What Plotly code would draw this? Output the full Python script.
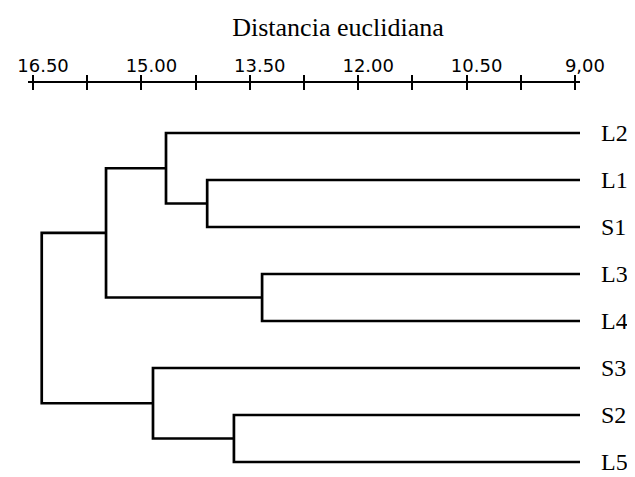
import plotly.graph_objects as go

# ---- data ----
leaves = ["L2", "L1", "S1", "L3", "L4", "S3", "S2", "L5"]
leaf_end = 8.93  # leaf lines run to the right edge (distance ~9)
# merges: (child_a, child_b, height); children: leaf index or "n<k>" for earlier merge k
merge_a = [1, 0, 3, "n1", 6, 5, "n3"]
merge_b = [2, "n0", 4, "n2", 7, "n4", "n5"]
merge_h = [14.09, 14.66, 13.33, 15.49, 13.72, 14.84, 16.38]

major_vals = [16.5, 15.0, 13.5, 12.0, 10.5, 9.0]
major_text = ["16.50", "15.00", "13.50", "12.00", "10.50", "9,00"]
minor_vals = [15.75, 14.25, 12.75, 11.25, 9.75]

title_text = "Distancia euclidiana"

# ---- build dendrogram segments ----
pos = {}
for i, _ in enumerate(leaves):
    pos[i] = (leaf_end, float(i))

xs, ys = [], []
for k, (a, b, h) in enumerate(zip(merge_a, merge_b, merge_h)):
    xa, ya = pos[a]
    xb, yb = pos[b]
    xs += [xa, h, h, xb, None]
    ys += [ya, ya, yb, yb, None]
    pos["n%d" % k] = (h, (ya + yb) / 2)

fig = go.Figure()
fig.add_trace(go.Scatter(x=xs, y=ys, mode="lines",
                         line=dict(color="black", width=2.7),
                         hoverinfo="skip", showlegend=False))
# invisible trace to activate the second (downward-tick) axis
fig.add_trace(go.Scatter(x=[9.0], y=[0], xaxis="x2", mode="markers",
                         marker=dict(opacity=0), hoverinfo="skip", showlegend=False))

tickvals = sorted(major_vals + minor_vals, reverse=True)
ticktext = [major_text[major_vals.index(v)] if v in major_vals else "" for v in tickvals]

W, H = 627, 469  # page body has an 8px margin
xrange = [16.57, 8.93]
fig.update_layout(
    width=W, height=H,
    margin=dict(l=20, r=55, t=75, b=5),
    paper_bgcolor="white", plot_bgcolor="white",
    title=dict(text=title_text, x=330 / W, xanchor="center",
               y=1 - 19 / H, yanchor="middle", yref="container",
               font=dict(family="Liberation Serif", size=26, color="black")),
    xaxis=dict(range=xrange, side="top", showline=True, linecolor="black", linewidth=2,
               showgrid=False, zeroline=False, automargin=False,
               tickmode="array", tickvals=tickvals, ticktext=ticktext,
               ticks="outside", ticklen=6, tickwidth=2, tickcolor="black",
               ticklabelshift=-10, ticklabelstandoff=-4,
               tickfont=dict(family="DejaVu Sans", size=18, color="black")),
    xaxis2=dict(range=xrange, overlaying="x", side="top", showline=False,
                showgrid=False, zeroline=False, automargin=False,
                tickmode="array", tickvals=tickvals, showticklabels=False,
                ticks="inside", ticklen=7, tickwidth=2, tickcolor="black"),
    yaxis=dict(range=[7.213, -1.064], side="right", showline=False, showgrid=False,
               zeroline=False, automargin=False,
               tickmode="array", tickvals=list(range(len(leaves))),
               ticktext=leaves, ticks="", ticklabelstandoff=20,
               ticklabeloverflow="allow",
               tickfont=dict(family="Liberation Serif", size=24, color="black")),
)

fig.write_html("out.html")
